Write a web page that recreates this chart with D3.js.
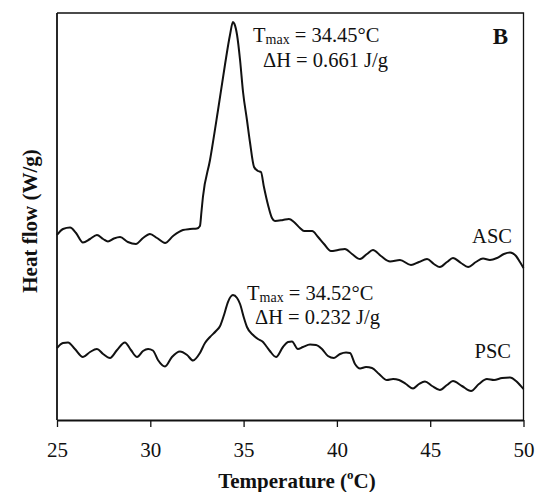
<!DOCTYPE html>
<html>
<head>
<meta charset="utf-8">
<script src="https://cdn.jsdelivr.net/npm/d3@7"></script>
<style>
  html, body { margin: 0; padding: 0; background: #fff; }
  svg { display: block; }
  text { font-family: "Liberation Serif", "Times New Roman", serif; fill: #111; }
</style>
</head>
<body>
<svg id="chart" width="538" height="492"></svg>
<script>
// DSC thermograms: temperature (°C) and heat flow (W/g, offset per sample)
const ascTemp = [25.00,25.32,25.70,26.02,26.39,26.77,27.14,27.47,27.73,28.05,28.38,28.80,29.23,29.61,29.98,30.36,30.79,31.22,31.75,32.13,32.50,32.66,32.74,32.82,33.20,33.63,34.00,34.27,34.43,34.51,34.65,34.81,34.97,35.18,35.34,35.56,35.77,35.93,36.09,36.31,36.52,36.68,37.11,37.43,37.70,38.02,38.24,38.67,38.99,39.31,39.68,40.06,40.43,40.81,41.24,41.61,41.93,42.36,42.85,43.38,43.97,44.40,44.83,45.20,45.52,45.90,46.22,46.65,47.03,47.45,47.83,48.20,48.58,48.95,49.28,49.60,49.81,50.00];
const ascFlow = [1.85,1.91,1.925,1.87,1.775,1.81,1.85,1.81,1.785,1.815,1.83,1.78,1.76,1.82,1.86,1.82,1.77,1.84,1.90,1.91,1.915,1.94,2.08,2.23,2.60,3.10,3.55,3.85,3.98,3.96,3.85,3.60,3.28,3.00,2.78,2.53,2.49,2.48,2.33,2.15,2.02,1.99,2.00,2.01,1.98,1.92,1.89,1.89,1.83,1.76,1.69,1.70,1.71,1.66,1.61,1.66,1.70,1.64,1.585,1.60,1.55,1.58,1.61,1.56,1.53,1.58,1.62,1.57,1.53,1.58,1.615,1.60,1.62,1.66,1.675,1.64,1.58,1.52];

const pscTemp = [25.00,25.32,25.59,25.96,26.39,26.77,27.14,27.47,27.84,28.22,28.64,28.96,29.29,29.61,29.88,30.14,30.41,30.79,31.16,31.59,31.97,32.29,32.66,32.93,33.20,33.52,33.74,33.95,34.16,34.43,34.65,34.81,35.02,35.18,35.51,35.77,36.04,36.25,36.41,36.74,37.11,37.38,37.59,37.91,38.18,38.56,38.88,39.20,39.52,39.84,40.17,40.49,40.70,40.97,41.24,41.56,41.88,42.26,42.68,43.01,43.33,43.70,44.08,44.40,44.72,45.10,45.52,45.90,46.22,46.70,47.19,47.61,48.04,48.42,48.85,49.28,49.60,49.81,50.00];
const pscFlow = [0.72,0.77,0.775,0.71,0.63,0.68,0.71,0.66,0.62,0.70,0.775,0.70,0.63,0.69,0.71,0.695,0.60,0.535,0.63,0.685,0.65,0.595,0.67,0.77,0.83,0.89,0.94,1.05,1.18,1.25,1.22,1.16,1.02,0.93,0.85,0.81,0.78,0.73,0.69,0.63,0.73,0.78,0.785,0.71,0.73,0.755,0.75,0.71,0.64,0.62,0.66,0.675,0.67,0.56,0.515,0.53,0.52,0.46,0.40,0.41,0.40,0.36,0.315,0.36,0.385,0.34,0.30,0.35,0.39,0.34,0.29,0.36,0.41,0.40,0.42,0.425,0.39,0.35,0.31];

const xTicks = [25, 30, 35, 40, 45, 50];
const sampleNames = ["ASC", "PSC"];
const tmaxValues = ["34.45", "34.52"];
const enthalpyValues = ["0.661", "0.232"];

const svg = d3.select("#chart");
const plotLeft = 57, plotRight = 523.5, plotTop = 13, plotBottom = 420;

const x = d3.scaleLinear().domain([25, 50]).range([plotLeft, plotRight]);
const y = d3.scaleLinear().domain([0, 4.07]).range([plotBottom, plotTop]);

// plot frame
svg.append("path")
  .attr("d", `M${plotLeft},${plotTop}H${plotRight}V${plotBottom}`)
  .attr("fill", "none").attr("stroke", "#111").attr("stroke-width", 1.3);
svg.append("line")
  .attr("x1", plotLeft).attr("x2", plotLeft).attr("y1", plotTop).attr("y2", plotBottom)
  .attr("stroke", "#111").attr("stroke-width", 1.8);

// temperature axis
const xAxis = svg.append("g")
  .attr("transform", `translate(0,${plotBottom})`)
  .call(d3.axisBottom(x).tickValues(xTicks).tickSize(7).tickPadding(15).tickSizeOuter(0));
xAxis.select(".domain").attr("stroke", "#111").attr("stroke-width", 1.8);
xAxis.selectAll(".tick line").attr("stroke", "#111").attr("stroke-width", 1.3);
xAxis.selectAll(".tick text")
  .attr("font-family", "Liberation Serif, serif")
  .attr("font-size", 21).attr("fill", "#111");

// axis titles
const xt = svg.append("text")
  .attr("x", 297).attr("y", 488)
  .attr("text-anchor", "middle")
  .attr("font-size", 21).attr("font-weight", "bold");
xt.append("tspan").text("Temperature (");
xt.append("tspan").attr("font-size", 13).attr("dy", -9).text("o");
xt.append("tspan").attr("dy", 9).text("C)");

svg.append("text")
  .attr("transform", "translate(37,221) rotate(-90)")
  .attr("text-anchor", "middle")
  .attr("font-size", 21).attr("font-weight", "bold")
  .text("Heat flow (W/g)");

// thermogram traces
const line = d3.line()
  .x(d => x(d[0])).y(d => y(d[1]))
  .curve(d3.curveMonotoneX);

[[ascTemp, ascFlow], [pscTemp, pscFlow]].forEach(([t, f]) => {
  svg.append("path")
    .datum(t.map((v, i) => [v, f[i]]))
    .attr("d", line)
    .attr("fill", "none")
    .attr("stroke", "#111")
    .attr("stroke-width", 2)
    .attr("stroke-linejoin", "round");
});

// sample labels
svg.append("text").attr("x", 512).attr("y", 243).attr("text-anchor", "end")
  .attr("font-size", 20.5).text(sampleNames[0]);
svg.append("text").attr("x", 511).attr("y", 358).attr("text-anchor", "end")
  .attr("font-size", 20.5).text(sampleNames[1]);

// panel letter
svg.append("text").attr("x", 508).attr("y", 44).attr("text-anchor", "end")
  .attr("font-size", 23).attr("font-weight", "bold").text("B");

// peak annotations: two-line block (Tmax, enthalpy)
function annotate(xT, yT, xH, gap, tmax, dh) {
  const t = svg.append("text").attr("x", xT).attr("y", yT).attr("font-size", 20.5);
  t.append("tspan").text("T");
  t.append("tspan").attr("font-size", 14).attr("dy", 2).text("max");
  t.append("tspan").attr("dy", -2).text(` = ${tmax}°C`);
  t.append("tspan").attr("x", xH).attr("dy", gap).text(`ΔH = ${dh} J/g`);
}
annotate(253, 42, 263, 25, tmaxValues[0], enthalpyValues[0]);
annotate(247, 300, 255, 24, tmaxValues[1], enthalpyValues[1]);
</script>
</body>
</html>
